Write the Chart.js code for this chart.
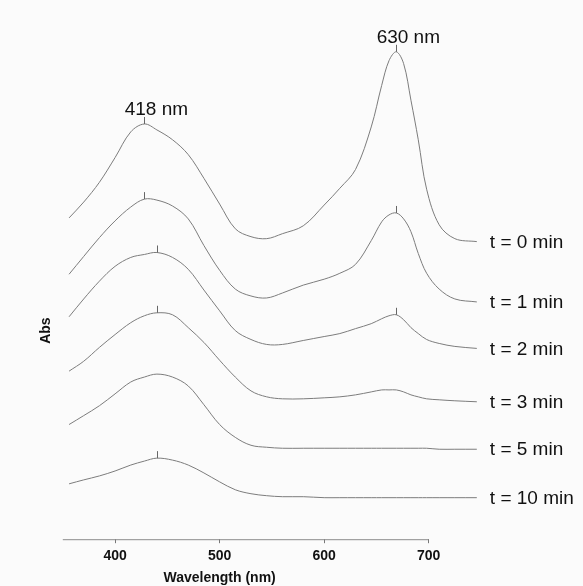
<!DOCTYPE html>
<html>
<head>
<meta charset="utf-8">
<script src="https://cdn.jsdelivr.net/npm/chart.js@4.4.1/dist/chart.umd.min.js"></script>
<style>
  body { margin: 0; background: #fbfbfb; }
  #wrap { width: 583px; height: 586px; }
</style>
</head>
<body>
<div id="wrap"><canvas id="spectra"></canvas></div>
<script>
// wavelength grid (nm) shared by all traces
const wavelengths = [356, 370, 385, 400, 415, 428, 440, 455, 470, 485, 500, 515, 530, 545, 560,
                     580, 600, 615, 630, 645, 655, 662, 669, 676, 683, 690, 698, 710, 725, 746];

// stacked absorbance traces, top to bottom
const abs0min  = [3.25, 3.41, 3.61, 3.86, 4.12, 4.20, 4.14, 4.04, 3.89, 3.65, 3.39, 3.14, 3.06, 3.04, 3.09,
                  3.17, 3.38, 3.55, 3.74, 4.17, 4.59, 4.84, 4.93, 4.81, 4.44, 4.04, 3.54, 3.18, 3.04, 3.01];
const abs1min  = [2.68, 2.86, 3.05, 3.22, 3.36, 3.44, 3.43, 3.37, 3.24, 2.97, 2.72, 2.53, 2.46, 2.44, 2.49,
                  2.57, 2.63, 2.69, 2.78, 3.02, 3.21, 3.28, 3.30, 3.24, 3.11, 2.89, 2.69, 2.53, 2.43, 2.40];
const abs2min  = [2.25, 2.43, 2.61, 2.76, 2.85, 2.88, 2.90, 2.85, 2.73, 2.52, 2.31, 2.11, 2.02, 1.97, 1.97,
                  2.01, 2.05, 2.08, 2.13, 2.18, 2.23, 2.26, 2.27, 2.22, 2.14, 2.08, 2.02, 1.98, 1.95, 1.93];
const abs3min  = [1.70, 1.80, 1.94, 2.07, 2.19, 2.26, 2.29, 2.27, 2.14, 1.99, 1.81, 1.64, 1.50, 1.44, 1.42,
                  1.42, 1.43, 1.44, 1.46, 1.49, 1.51, 1.51, 1.51, 1.49, 1.46, 1.44, 1.42, 1.41, 1.40, 1.39];
const abs5min  = [1.16, 1.25, 1.35, 1.47, 1.59, 1.64, 1.67, 1.64, 1.55, 1.36, 1.16, 1.03, 0.95, 0.93, 0.92,
                  0.92, 0.92, 0.92, 0.92, 0.92, 0.92, 0.92, 0.92, 0.92, 0.92, 0.92, 0.92, 0.91, 0.91, 0.91];
const abs10min = [0.56, 0.60, 0.64, 0.69, 0.75, 0.79, 0.82, 0.80, 0.75, 0.67, 0.58, 0.50, 0.46, 0.44, 0.43,
                  0.43, 0.42, 0.42, 0.42, 0.42, 0.42, 0.42, 0.42, 0.42, 0.42, 0.42, 0.42, 0.42, 0.42, 0.42];

const traces = [abs0min, abs1min, abs2min, abs3min, abs5min, abs10min];
const traceLabels = ["t = 0 min", "t = 1 min", "t = 2 min", "t = 3 min", "t = 5 min", "t = 10 min"];
const xTicks = [400, 500, 600, 700];

// [trace, point index] of the little peak markers
const peakMarks = [[0, 5], [0, 22], [1, 5], [1, 22], [2, 6], [2, 22], [3, 6], [5, 6]];
// peak captions placed over the t = 0 trace
const peakCaptions = [["418 nm", 0, 5], ["630 nm", 0, 22]];

const annotate = {
    id: "annotate",
    afterDatasetsDraw(chart) {
        const ctx = chart.ctx;
        const xs = chart.scales.x;
        const area = chart.chartArea;
        ctx.save();

        // axis line only over the ticked range
        ctx.strokeStyle = "#8c8c8c";
        ctx.lineWidth = 1;
        ctx.beginPath();
        ctx.moveTo(xs.getPixelForValue(350), area.bottom + 0.5);
        ctx.lineTo(xs.getPixelForValue(700), area.bottom + 0.5);
        ctx.stroke();

        ctx.strokeStyle = "#666";
        peakMarks.forEach(([s, i]) => {
            const pt = chart.getDatasetMeta(s).data[i];
            ctx.beginPath();
            ctx.moveTo(Math.round(pt.x) + 0.5, pt.y);
            ctx.lineTo(Math.round(pt.x) + 0.5, pt.y - 7);
            ctx.stroke();
        });

        ctx.fillStyle = "#111";
        ctx.font = "19px 'Liberation Sans', Arial, sans-serif";
        ctx.textAlign = "center";
        ctx.textBaseline = "alphabetic";
        peakCaptions.forEach(([text, s, i]) => {
            const pt = chart.getDatasetMeta(s).data[i];
            ctx.fillText(text, pt.x + 12, pt.y - 9);
        });

        ctx.textAlign = "left";
        ctx.textBaseline = "middle";
        traceLabels.forEach((text, s) => {
            const pts = chart.getDatasetMeta(s).data;
            const last = pts[pts.length - 1];
            ctx.fillText(text, last.x + 13, last.y + 1);
        });

        // x axis title
        ctx.font = "bold 14px 'Liberation Sans', Arial, sans-serif";
        ctx.textAlign = "center";
        ctx.textBaseline = "alphabetic";
        ctx.fillText("Wavelength (nm)", xs.getPixelForValue(500), 582);
        ctx.restore();
    }
};

const ctx = document.getElementById("spectra").getContext("2d");
new Chart(ctx, {
    type: "line",
    data: {
        datasets: traces.map((vals, s) => ({
            label: traceLabels[s],
            data: vals.map((v, i) => ({ x: wavelengths[i], y: v })),
            borderColor: "#7c7c7c",
            borderWidth: 1,
            pointRadius: 0,
            tension: 0.35,
            clip: false,
            fill: false
        }))
    },
    options: {
        responsive: true,
        maintainAspectRatio: false,
        animation: false,
        layout: { padding: { left: 34, right: 102, top: 122, bottom: 16 } },
        plugins: { legend: { display: false }, tooltip: { enabled: false } },
        scales: {
            x: {
                type: "linear",
                min: 350,
                max: 750,
                afterBuildTicks: scale => { scale.ticks = xTicks.map(v => ({ value: v })); },
                border: { display: false },
                grid: { drawOnChartArea: false, drawTicks: true, tickLength: 4, color: "#777" },
                ticks: {
                    padding: 5,
                    color: "#111",
                    font: { family: "'Liberation Sans', Arial, sans-serif", size: 14, weight: "bold" }
                }
            },
            y: {
                min: 0,
                max: 4.22,
                border: { display: false },
                grid: { display: false, drawTicks: false },
                ticks: { display: false },
                title: {
                    display: true,
                    text: "Abs",
                    color: "#111",
                    padding: { top: 4, bottom: 8 },
                    font: { family: "'Liberation Sans', Arial, sans-serif", size: 14, weight: "bold" }
                }
            }
        }
    },
    plugins: [annotate]
});
</script>
</body>
</html>
